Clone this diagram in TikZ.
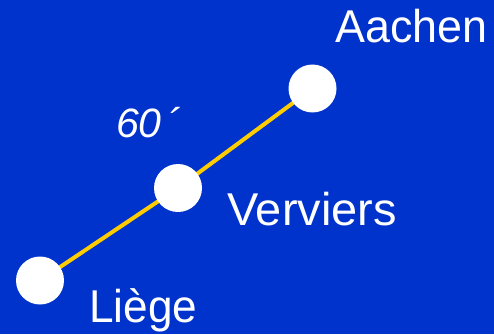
\documentclass[tikz,border=0pt]{standalone}
\usepackage{fontspec}
\setmainfont{Liberation Sans}
\definecolor{bgblue}{HTML}{0033CC}
\definecolor{railyellow}{HTML}{FFCC00}
\begin{document}
\begin{tikzpicture}[x=1pt,y=-1pt,
  stop/.style={circle,fill=white,minimum size=48pt,inner sep=0pt},
  rail/.style={draw=railyellow,line width=4pt},
  city/.style={anchor=base west,inner sep=0pt,text=white,
    font=\fontsize{46}{48}\selectfont},
  timelabel/.style={anchor=base west,inner sep=0pt,text=white,
    font=\fontsize{41}{43}\selectfont\itshape}]
  % background
  \fill[bgblue] (0,0) rectangle (494,334);
  \useasboundingbox (0,0) rectangle (494,334);
  % stations
  \coordinate (pl) at (40,280.5);
  \coordinate (pv) at (178,188);
  \coordinate (pa) at (312.5,88.5);
  \draw[rail] (pl) -- (pv) -- (pa);
  \node[stop] (liege) at (pl) {};
  \node[stop] (verviers) at (pv) {};
  \node[stop] (aachen) at (pa) {};
  % names
  \node[city] (tliege) at (89,322) {\scalebox{0.96}[1]{Liège}};
  \node[city] (tverviers) at (227,225) {\scalebox{1.02}[1]{Verviers}};
  \node[city] (taachen) at (335,43) {\scalebox{0.975}[1]{Aachen}};
  \node[timelabel] (ttime) at (116,137) {60\kern6pt´};
\end{tikzpicture}
\end{document}
